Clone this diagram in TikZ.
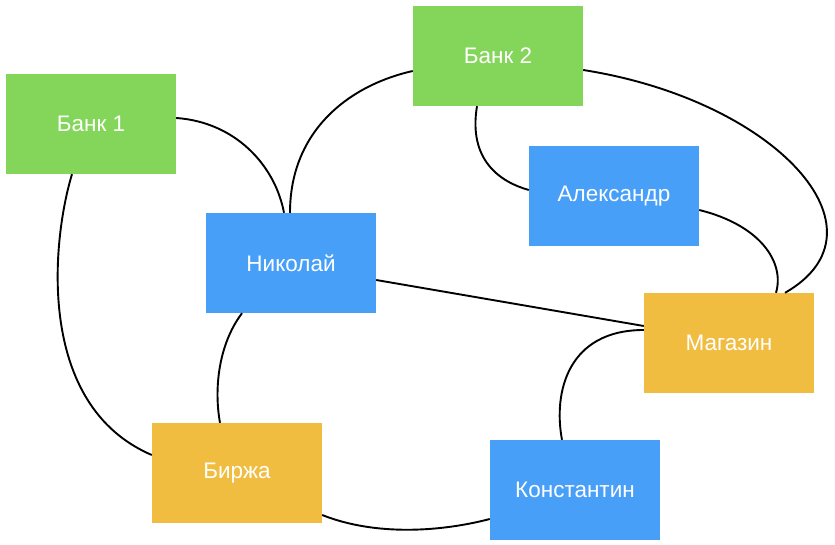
\documentclass[tikz,border=0pt]{standalone}
\usepackage{fontspec}
\setmainfont{Liberation Sans}
\definecolor{cgreen}{HTML}{84D65A}
\definecolor{cblue}{HTML}{479FF8}
\definecolor{cyellow}{HTML}{F0BD41}
\begin{document}
\begin{tikzpicture}[x=1pt,y=-1pt,
  box/.style={minimum width=170pt,minimum height=100pt,inner sep=0pt,text=white,font=\fontsize{22.5}{26}\selectfont},
  gbox/.style={box,fill=cgreen},
  bbox/.style={box,fill=cblue},
  ybox/.style={box,fill=cyellow},
  link/.style={line width=1.9pt,black}]
\useasboundingbox (0,0) rectangle (835,545);
\node[gbox] (b1) at (91,124) {Банк 1};
\node[gbox] (b2) at (498,56) {Банк 2};
\node[bbox] (nik) at (291,263) {Николай};
\node[bbox] (ale) at (614,196) {Александр};
\node[ybox] (mag) at (729,343) {Магазин};
\node[ybox] (bir) at (237,473) {Биржа};
\node[bbox] (kon) at (575,490) {Константин};

\draw[link] (b1.east |- 0,118) .. controls (235,122) and (275,165) .. (nik.north -| 284,0);
\draw[link] (nik.north -| 290,0) .. controls (290,130) and (350,85) .. (b2.west |- 0,71);
\draw[link] (b2.south -| 477,0) .. controls (468,160) and (500,182) .. (ale.west |- 0,190);
\draw[link] (b2.east |- 0,70) .. controls (775,100) and (895,230) .. (mag.north -| 785,0);
\draw[link] (ale.east |- 0,210) .. controls (760,225) and (785,262) .. (mag.north -| 776,0);
\draw[link] (nik.east |- 0,280) -- (mag.west |- 0,326);
\draw[link] (nik.south -| 242,0) .. controls (218,345) and (214,390) .. (bir.north -| 220,0);
\draw[link] (b1.south -| 72,0) .. controls (52,240) and (35,405) .. (bir.west |- 0,455);
\draw[link] (bir.east |- 0,515) .. controls (375,536) and (440,532) .. (kon.west |- 0,519);
\draw[link] (mag.west |- 0,330) .. controls (568,330) and (553,392) .. (kon.north -| 562,0);
\end{tikzpicture}
\end{document}
